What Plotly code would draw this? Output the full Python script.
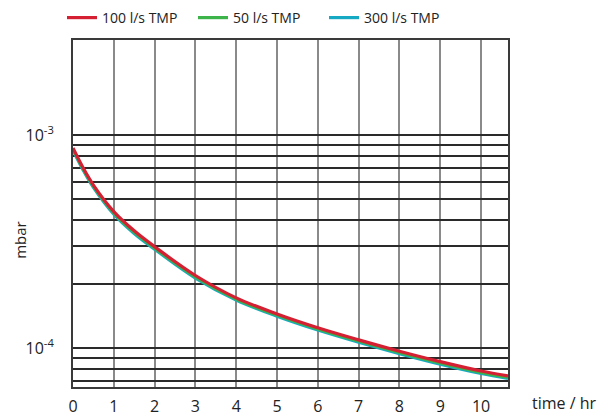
import plotly.graph_objects as go

# Data
time_hr = [0, 0.25, 0.5, 1, 1.5, 2, 3, 4, 5, 6, 7, 8, 9, 10, 10.66]
p_100 = [8.69e-4, 7.00e-4, 5.82e-4, 4.37e-4, 3.55e-4, 2.99e-4, 2.19e-4, 1.72e-4,
         1.445e-4, 1.245e-4, 1.092e-4, 9.66e-5, 8.63e-5, 7.80e-5, 7.40e-5]
p_50 = [8.60e-4, 6.92e-4, 5.75e-4, 4.31e-4, 3.50e-4, 2.95e-4, 2.16e-4, 1.70e-4,
        1.427e-4, 1.229e-4, 1.078e-4, 9.53e-5, 8.51e-5, 7.69e-5, 7.29e-5]
p_300 = [8.50e-4, 6.84e-4, 5.68e-4, 4.25e-4, 3.45e-4, 2.91e-4, 2.13e-4, 1.68e-4,
         1.41e-4, 1.214e-4, 1.064e-4, 9.41e-5, 8.40e-5, 7.59e-5, 7.19e-5]

series_names = ["100 l/s TMP", "50 l/s TMP", "300 l/s TMP"]
series_colors = ["#d42032", "#3cb44a", "#16a9c3"]

x_ticks = list(range(0, 11))
y_grid = [7e-5, 8e-5, 9e-5, 1e-4, 2e-4, 3e-4, 4e-4, 5e-4, 6e-4, 7e-4, 8e-4, 9e-4, 1e-3]
y_ticktext = ["10<sup>-3</sup>" if v == 1e-3 else ("10<sup>-4</sup>" if v == 1e-4 else "")
              for v in y_grid]

FONT = "Open Sans"

fig = go.Figure()
# draw cyan first, red last (red on top); legend reversed to show red, green, cyan
for name, ys, col in reversed(list(zip(series_names, [p_100, p_50, p_300], series_colors))):
    fig.add_trace(go.Scatter(x=time_hr, y=ys, mode="lines", name=name,
                             line=dict(color=col, width=3.2, shape="spline", smoothing=1.0)))

fig.update_layout(
    width=607, height=416,
    margin=dict(l=73, r=99, t=40, b=29, autoexpand=False),
    paper_bgcolor="white", plot_bgcolor="white",
    font=dict(family=FONT, size=15, color="#222"),
    showlegend=True,
    legend=dict(orientation="h", traceorder="reversed",
                xref="container", x=62 / 607, xanchor="left",
                yref="container", y=1 - 18 / 416, yanchor="middle",
                font=dict(size=14, color="#222"),
                itemwidth=30, entrywidth=86, entrywidthmode="pixels",
                bgcolor="rgba(0,0,0,0)"),
    xaxis=dict(range=[0, 10.66], tickvals=x_ticks, ticktext=[str(t) for t in x_ticks],
               showgrid=True, gridcolor="#8a8a8a", gridwidth=2,
               showline=True, linecolor="#3a3a3a", linewidth=2, mirror=True,
               zeroline=False, ticks="", ticklabelstandoff=4, automargin=False,
               tickfont=dict(size=16, color="#222")),
    yaxis=dict(type="log", range=[-4.183, -2.554], tickvals=y_grid, ticktext=y_ticktext,
               showgrid=True, gridcolor="#2a2a2a", gridwidth=1.5,
               showline=True, linecolor="#3a3a3a", linewidth=2, mirror=True,
               zeroline=False, ticks="", ticklabelstandoff=14, automargin=False,
               tickfont=dict(size=16, color="#222")),
    annotations=[
        dict(text="time / hr", xref="paper", yref="paper", x=1.05, y=-0.046,
             xanchor="left", yanchor="middle", showarrow=False,
             font=dict(size=16, color="#222")),
        dict(text="mbar", xref="paper", yref="paper", x=-0.122, y=0.424,
             xanchor="center", yanchor="middle", textangle=-90, showarrow=False,
             font=dict(size=15, color="#222")),
    ],
)

fig.write_html("out.html")
